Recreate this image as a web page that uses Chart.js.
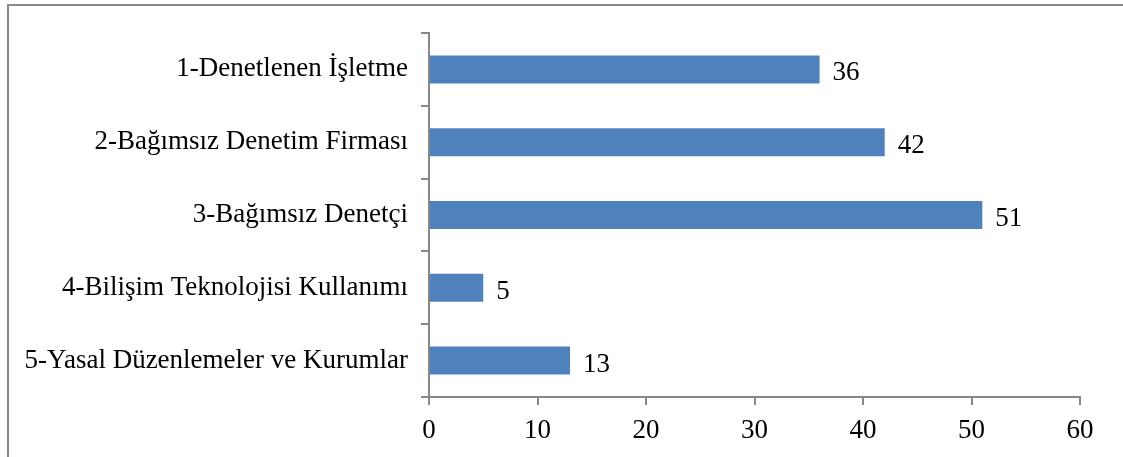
<!DOCTYPE html>
<html>
<head>
<meta charset="utf-8">
<script src="https://cdn.jsdelivr.net/npm/chart.js@4"></script>
<style>
  html, body { margin: 0; padding: 0; background: #fff; overflow: hidden; }
  #wrap { position: relative; width: 1123px; height: 457px; }
  #frame {
    position: absolute; left: 7px; top: 4px; width: 1200px; height: 500px;
    border: 2px solid #8a8a8a; box-sizing: border-box;
  }
  canvas { position: absolute; left: 0; top: 0; }
</style>
</head>
<body>
<div id="wrap">
  <div id="frame"></div>
  <canvas id="chart" width="1123" height="457"></canvas>
</div>
<script>
"use strict";

const categories = [
  '1-Denetlenen İşletme',
  '2-Bağımsız Denetim Firması',
  '3-Bağımsız Denetçi',
  '4-Bilişim Teknolojisi Kullanımı',
  '5-Yasal Düzenlemeler ve Kurumlar'
];
const values = [36, 42, 51, 5, 13];
const x_ticks = [0, 10, 20, 30, 40, 50, 60];

const font_family = '"Liberation Serif", "Times New Roman", serif';
const axis_grey = '#878787';

// labels at the end of each bar
const valueLabels = {
  id: 'valueLabels',
  afterDatasetsDraw(chart) {
    const ctx = chart.ctx;
    const meta = chart.getDatasetMeta(0);
    ctx.save();
    ctx.font = '27px ' + font_family;
    ctx.fillStyle = '#000';
    ctx.textAlign = 'left';
    ctx.textBaseline = 'middle';
    meta.data.forEach((bar, i) => {
      ctx.fillText(String(values[i]), bar.x + 13, bar.y + 4);
    });
    ctx.restore();
  }
};

var chart = new Chart(document.getElementById('chart'), {
  type: 'bar',
  data: {
    labels: categories,
    datasets: [{
      data: values,
      backgroundColor: '#4F81BD',
      borderWidth: 0,
      barPercentage: 0.385,
      categoryPercentage: 1,
    }],
  },
  options: {
    indexAxis: 'y',
    responsive: false,
    animation: false,
    devicePixelRatio: 1,
    layout: { padding: { top: 33, right: 43, bottom: 0, left: 0 } },
    plugins: {
      legend: { display: false },
      tooltip: { enabled: false },
    },
    scales: {
      x: {
        min: 0,
        max: 60,
        afterBuildTicks: (axis) => { axis.ticks = x_ticks.map(v => ({ value: v })); },
        afterFit: (axis) => { axis.height = 60; },
        grid: { drawOnChartArea: false, drawTicks: true, tickLength: 8, color: axis_grey, lineWidth: 2 },
        border: { color: axis_grey, width: 2 },
        ticks: { color: '#000', font: { family: font_family, size: 27 }, padding: 10, maxRotation: 0 },
      },
      y: {
        afterFit: (axis) => { axis.width = 429; },
        grid: { drawOnChartArea: false, drawTicks: true, tickLength: 8, color: axis_grey, lineWidth: 2 },
        border: { color: axis_grey, width: 2 },
        ticks: { color: '#000', font: { family: font_family, size: 27 }, padding: 13 },
      },
    },
  },
  plugins: [valueLabels],
});
</script>
</body>
</html>
